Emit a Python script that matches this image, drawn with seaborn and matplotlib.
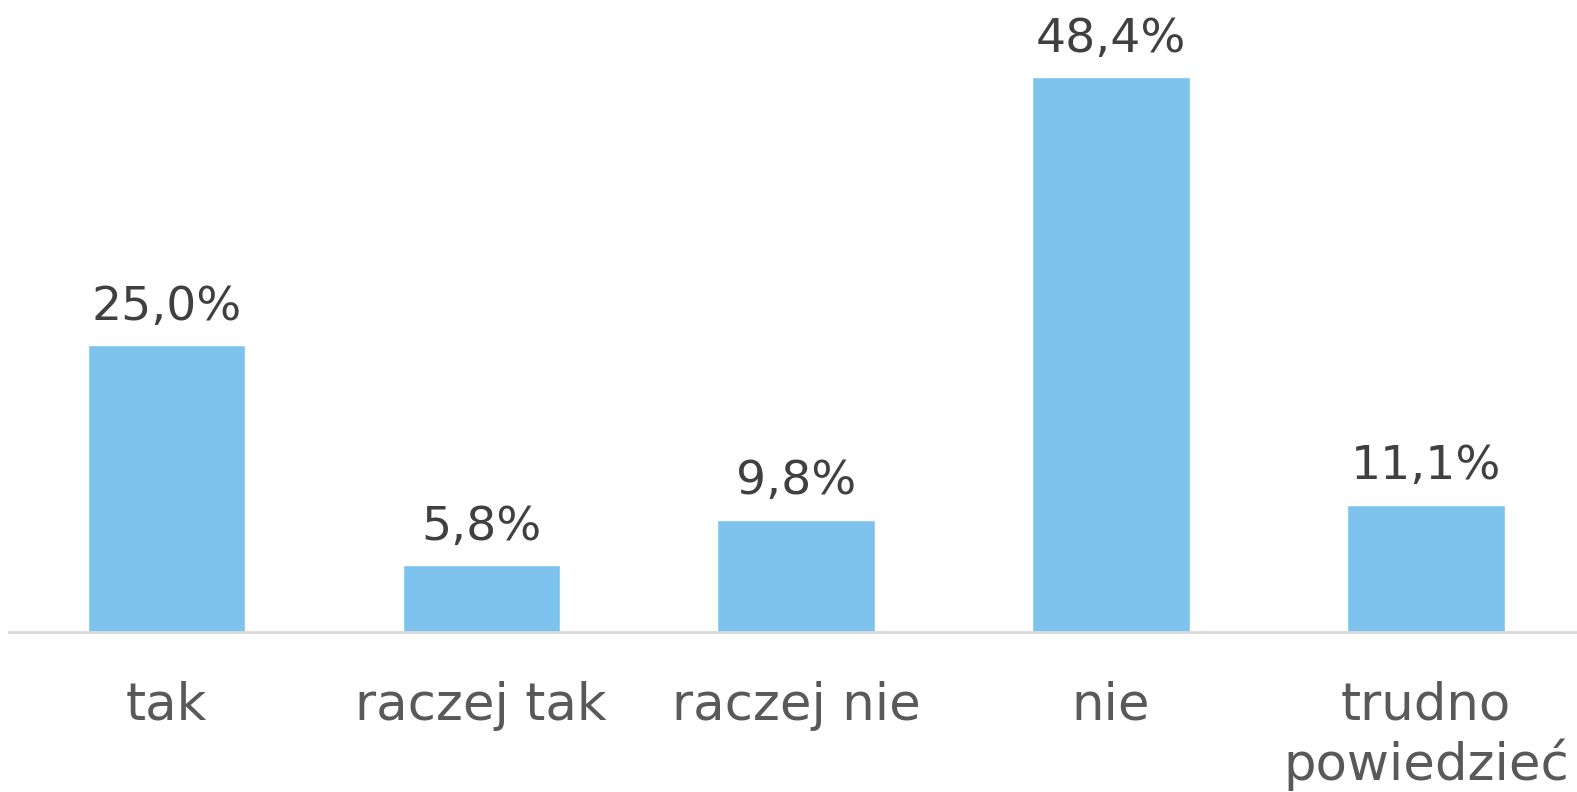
import matplotlib
matplotlib.use("Agg")
import matplotlib.pyplot as plt
import seaborn as sns
import pandas as pd

kategorie = ['tak', 'raczej tak', 'raczej nie', 'nie', 'trudno\npowiedzieć']
wartosci = [25.0, 5.8, 9.8, 48.4, 11.1]
etykiety = ['25,0%', '5,8%', '9,8%', '48,4%', '11,1%']

sns.set_style('white')
plt.rcParams['font.family'] = ['DejaVu Sans']

df = pd.DataFrame({'kategoria': kategorie, 'wartosc': wartosci})

fig = plt.figure(figsize=(15.77, 7.92), dpi=100)
ax = fig.add_axes([9 / 1577, 160 / 792, 1568 / 1577, 632 / 792])

sns.barplot(data=df, x='kategoria', y='wartosc', color='#7DC3EE', saturation=1,
            width=0.5, ax=ax)

ax.set_xlim(-0.5, 4.48)
ax.set_ylim(0, 55.1)

for i, (v, t) in enumerate(zip(wartosci, etykiety)):
    ax.annotate(t, (i, v), xytext=(0, 11), textcoords='offset points',
                ha='center', va='bottom', fontsize=34, color='#404040')

for s in ['top', 'right', 'left']:
    ax.spines[s].set_visible(False)
ax.spines['bottom'].set_color('#D9D9D9')
ax.spines['bottom'].set_linewidth(2)

ax.set_yticks([])
ax.set_xlabel('')
ax.set_ylabel('')
ax.tick_params(axis='x', length=0, pad=35, labelsize=37, labelcolor='#595959')
for lab in ax.get_xticklabels():
    lab.set_linespacing(1.18)
    lab.set_verticalalignment('top')

fig.savefig('out.png', dpi=100)
